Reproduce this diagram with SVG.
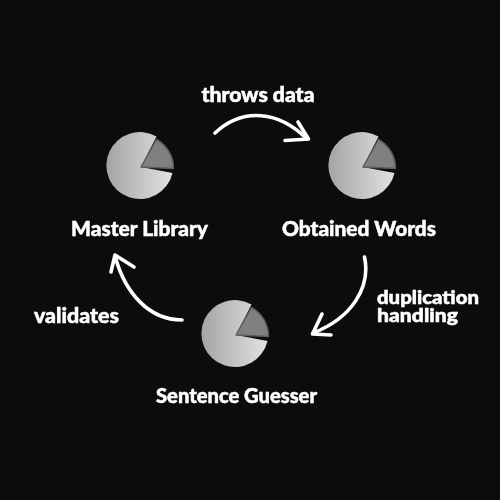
<svg xmlns="http://www.w3.org/2000/svg" width="500" height="500" viewBox="0 0 500 500">
<style>
text{font-family:"Lato","Liberation Sans",sans-serif;font-weight:900;fill:#fff;stroke:#fff;stroke-width:0.5;font-size:20px}
.s{font-size:18px}
.c{fill:none;stroke:#fff;stroke-width:3.6;stroke-linecap:round;stroke-linejoin:round}
</style>
<defs>
<linearGradient id="g" x1="0" y1="0" x2="1" y2="0"><stop offset="0" stop-color="#a4a4a4"/><stop offset="1" stop-color="#e2e2e2"/></linearGradient>
<filter id="b" x="-5%" y="-5%" width="110%" height="110%"><feGaussianBlur stdDeviation="0.6"/></filter>
<g id="pie" filter="url(#b)">
<path d="M0 0L15.500 -30.500A33.500 33.500 0 1 0 31.500 6Z" fill="url(#g)"/>
<path d="M0 0L15.500 -27.500A33 33 0 0 1 32.500 1.500Z" fill="#808080" stroke="#5c5c5c" stroke-width="1.500" stroke-linejoin="round"/>
</g>
</defs>
<rect width="500" height="500" fill="#0c0c0e"/>
<g id="connectors" filter="url(#b)">
<path class="c" d="M215 133C243 107 279 111 307 139"/>
<path class="c" d="M298 122L308.500 139L285 140.500"/>
<path class="c" d="M364.500 257C371 287 352 318 313 333"/>
<path class="c" d="M322 314L312.500 334L331 335"/>
<path class="c" d="M182 320C149 320 125 293 115 256"/>
<path class="c" d="M111 272L115 255L134 267"/>
</g>
<g id="master-library"><use href="#pie" x="141" y="167"/><text x="139.500" y="236" text-anchor="middle" textLength="137" lengthAdjust="spacingAndGlyphs" filter="url(#b)">Master Library</text></g>
<g id="obtained-words"><use href="#pie" x="363" y="167"/><text x="359" y="236" text-anchor="middle" textLength="154" lengthAdjust="spacingAndGlyphs" filter="url(#b)">Obtained Words</text></g>
<g id="sentence-guesser"><use href="#pie" x="236" y="335"/><text x="236.500" y="403" text-anchor="middle" textLength="161" lengthAdjust="spacingAndGlyphs" filter="url(#b)">Sentence Guesser</text></g>
<g id="labels" filter="url(#b)">
<text x="258" y="102" text-anchor="middle" textLength="113" lengthAdjust="spacingAndGlyphs">throws data</text>
<text class="s" x="377" y="304" textLength="102" lengthAdjust="spacingAndGlyphs">duplication</text>
<text class="s" x="377" y="321.500" textLength="81" lengthAdjust="spacingAndGlyphs">handling</text>
<text x="34" y="323" textLength="85" lengthAdjust="spacingAndGlyphs">validates</text>
</g>
</svg>
